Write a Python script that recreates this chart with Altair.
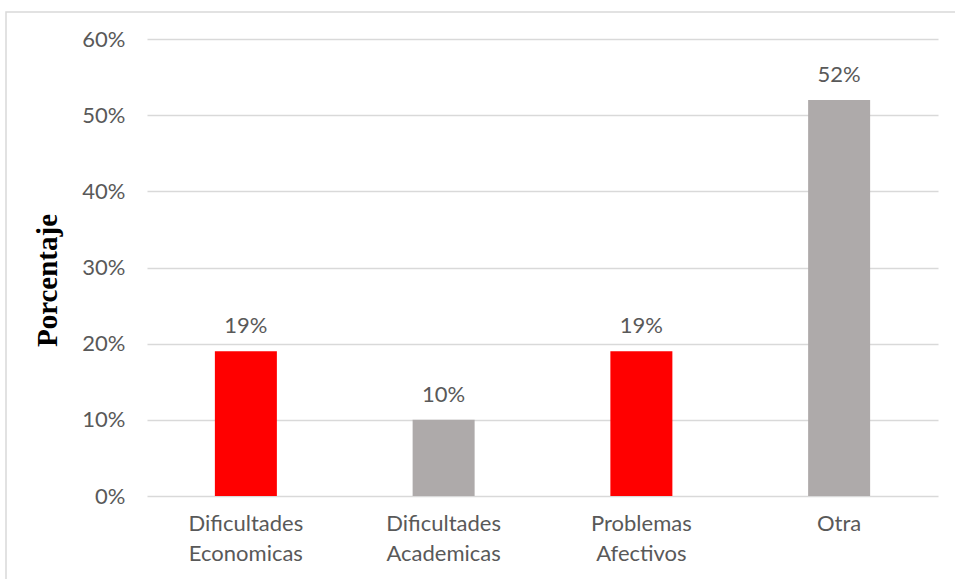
import altair as alt
import pandas as pd

# Reasons, share of respondents and bar colours
categories = ["Dificultades Economicas", "Dificultades Academicas", "Problemas Afectivos", "Otra"]
values = [0.19, 0.10, 0.19, 0.52]
colors = ["#FF0000", "#AEAAAA", "#FF0000", "#AEAAAA"]
labels = ["19%", "10%", "19%", "52%"]

df = pd.DataFrame({"categoria": categories, "valor": values, "color": colors, "etiqueta": labels})

FONT = "Lato"
TEXT = "#595959"
GRID = "#D9D9D9"

x = alt.X(
    "categoria:N",
    sort=categories,
    title=None,
    scale=alt.Scale(paddingInner=0.0, paddingOuter=0.0),
    axis=alt.Axis(
        labelAngle=0,
        labelExpr="split(datum.label, ' ')",
        labelFont=FONT,
        labelFontSize=22,
        labelColor=TEXT,
        labelLineHeight=30,
        labelPadding=17,
        labelBaseline="top",
        ticks=False,
        domain=False,
        grid=False,
    ),
)

y = alt.Y(
    "valor:Q",
    scale=alt.Scale(domain=[0, 0.6], nice=False),
    axis=alt.Axis(
        format=".0%",
        values=[0, 0.1, 0.2, 0.3, 0.4, 0.5, 0.6],
        title="Porcentaje",
        titleFont="Liberation Serif",
        titleFontWeight="bold",
        titleFontSize=29,
        titleColor="#000000",
        titleAngle=-90,
        titleAlign="center",
        titleBaseline="middle",
        titleX=-100,
        titleY=241,
        labelFont=FONT,
        labelFontSize=22,
        labelColor=TEXT,
        labelPadding=22,
        ticks=False,
        domain=False,
        grid=True,
        gridColor=GRID,
        gridWidth=1.5,
    ),
)

bars = alt.Chart(df).mark_bar(size=62).encode(
    x=x,
    y=y,
    color=alt.Color("color:N", scale=None),
)

text = alt.Chart(df).mark_text(
    font=FONT, fontSize=22, color=TEXT, baseline="alphabetic", dy=-18
).encode(
    x=alt.X("categoria:N", sort=categories),
    y="valor:Q",
    text="etiqueta:N",
)

# Light frame around the whole figure
frame = alt.Chart(pd.DataFrame({"k": [0]})).mark_rect(
    fill=None, stroke=GRID, strokeWidth=1.5
).encode(
    x=alt.value(-141),
    x2=alt.value(840),
    y=alt.value(-27),
    y2=alt.value(560),
)

chart = (
    alt.layer(frame, bars, text)
    .properties(
        width=791,
        height=457,
        autosize=alt.AutoSizeParams(type="none"),
        padding={"left": 147, "top": 39, "right": 17, "bottom": 83},
        background="#FFFFFF",
    )
    .configure_view(stroke=None)
)

chart.save("out.html", embed_options={"renderer": "svg", "actions": False})
